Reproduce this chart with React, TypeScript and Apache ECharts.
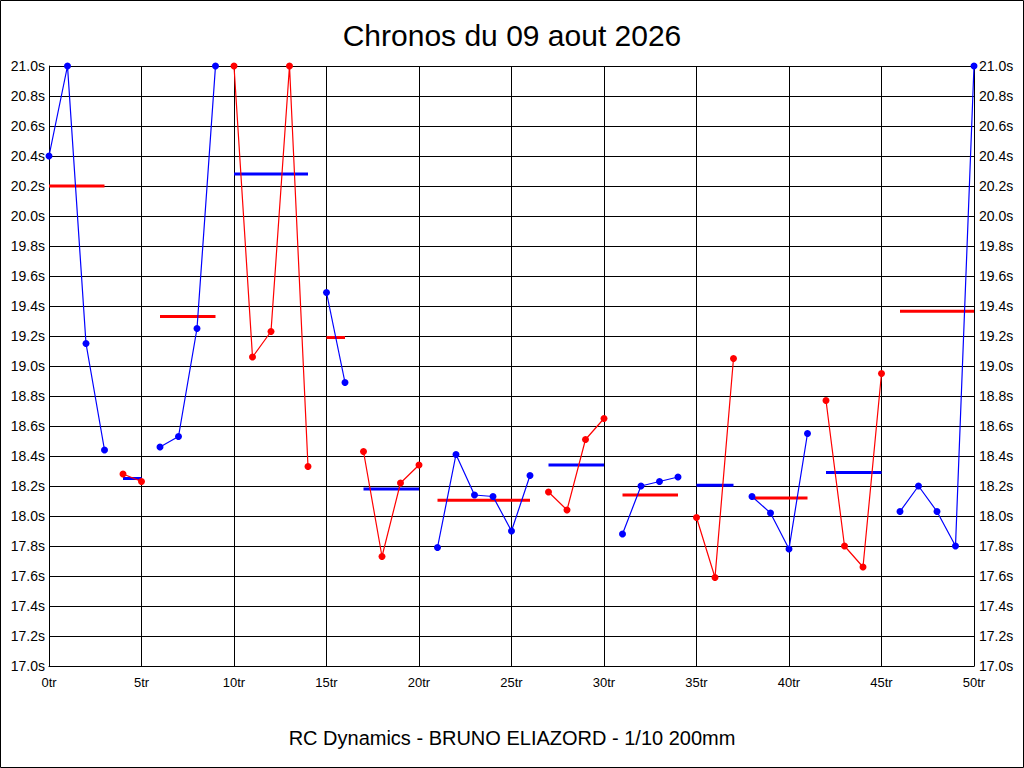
import React, { useEffect, useRef } from "react";
import * as echarts from "echarts";

const lapTimes: number[] = [
  20.4, 21.0, 19.15, 18.44, 18.28, 18.23, 18.46, 18.53, 19.25, 21.0,
  21.0, 19.06, 19.23, 21.0, 18.33, 19.49, 18.89, 18.43, 17.73, 18.22,
  18.34, 17.79, 18.41, 18.14, 18.13, 17.9, 18.27, 18.16, 18.04, 18.51,
  18.65, 17.88, 18.2, 18.23, 18.26, 17.99, 17.59, 19.05, 18.13, 18.02,
  17.78, 18.55, 18.77, 17.8, 17.66, 18.95, 18.03, 18.2, 18.03, 17.8,
  21.0,
];

// [first lap, last lap] of each run
const segmentStarts: number[] = [0, 4, 6, 10, 15, 17, 21, 27, 31, 35, 38, 42, 46];
const segmentEnds: number[] = [3, 5, 9, 14, 16, 20, 26, 30, 34, 37, 41, 45, 50];
const segmentAverages: number[] = [
  20.2, 18.25, 19.33, 20.28, 19.19, 18.18, 18.105, 18.34, 18.14, 18.205, 18.12, 18.29, 19.365,
];

const xTicks = { min: 0, max: 50, interval: 5 };
const yTicks = { min: 17.0, max: 21.0, interval: 0.2 };

const titleText = "Chronos du 09 aout 2026";
const footerText = "RC Dynamics - BRUNO ELIAZORD - 1/10 200mm";

const BLUE = "#0000ff";
const RED = "#ff0000";
const FONT = "Liberation Sans, Arial, sans-serif";

export default function App() {
  const ref = useRef<HTMLDivElement>(null);

  useEffect(() => {
    if (!ref.current) return;
    const chart = echarts.init(ref.current, null, { renderer: "svg" });

    const series: any[] = [];
    segmentStarts.forEach((s, i) => {
      const e = segmentEnds[i];
      const color = i % 2 === 0 ? BLUE : RED;
      const avgColor = i % 2 === 0 ? RED : BLUE;
      const pts: number[][] = [];
      for (let k = s; k <= e; k++) pts.push([k, lapTimes[k]]);
      series.push({
        type: "line",
        data: [
          [s, segmentAverages[i]],
          [e, segmentAverages[i]],
        ],
        symbol: "none",
        lineStyle: { color: avgColor, width: 3 },
        clip: false,
        silent: true,
        z: 2,
      });
      series.push({
        type: "line",
        data: pts,
        symbol: "circle",
        symbolSize: 7,
        itemStyle: { color },
        lineStyle: { color, width: 1.2 },
        clip: false,
        z: 3,
      });
    });

    const yAxisBase = {
      type: "value",
      min: yTicks.min,
      max: yTicks.max,
      interval: yTicks.interval,
      axisLine: { show: true, lineStyle: { color: "#000", width: 1 } },
      axisTick: { show: false },
      splitLine: { show: true, lineStyle: { color: "#000", width: 1 } },
      axisLabel: {
        color: "#000",
        fontFamily: FONT,
        fontSize: 14,
        margin: 4,
        formatter: (v: number) => v.toFixed(1) + "s",
      },
    };

    chart.setOption({
      animation: false,
      backgroundColor: "#fff",
      title: [
        {
          text: titleText,
          left: "center",
          top: 15,
          textStyle: { color: "#000", fontFamily: FONT, fontSize: 30, fontWeight: "normal" },
        },
        {
          text: footerText,
          left: "center",
          top: 723,
          textStyle: { color: "#000", fontFamily: FONT, fontSize: 20, fontWeight: "normal" },
        },
      ],
      graphic: [
        {
          type: "rect",
          shape: { x: 0.5, y: 0.5, width: 1023, height: 767 },
          style: { fill: "none", stroke: "#000", lineWidth: 1 },
          silent: true,
        },
      ],
      grid: { left: 49, right: 50, top: 66, bottom: 102, containLabel: false },
      xAxis: {
        type: "value",
        min: xTicks.min,
        max: xTicks.max,
        interval: xTicks.interval,
        axisLine: { show: true, onZero: false, lineStyle: { color: "#000", width: 1 } },
        axisTick: { show: false },
        splitLine: { show: true, lineStyle: { color: "#000", width: 1 } },
        axisLabel: {
          color: "#000",
          fontFamily: FONT,
          fontSize: 13,
          margin: 10,
          formatter: (v: number) => v + "tr",
        },
      },
      yAxis: [
        { ...yAxisBase, position: "left" },
        { ...yAxisBase, position: "right", axisLabel: { ...yAxisBase.axisLabel, margin: 5 } },
      ],
      series,
    });

    return () => chart.dispose();
  }, []);

  return (
    <div
      ref={ref}
      style={{ position: "fixed", left: 0, top: 0, width: 1024, height: 768, background: "#fff" }}
    />
  );
}
